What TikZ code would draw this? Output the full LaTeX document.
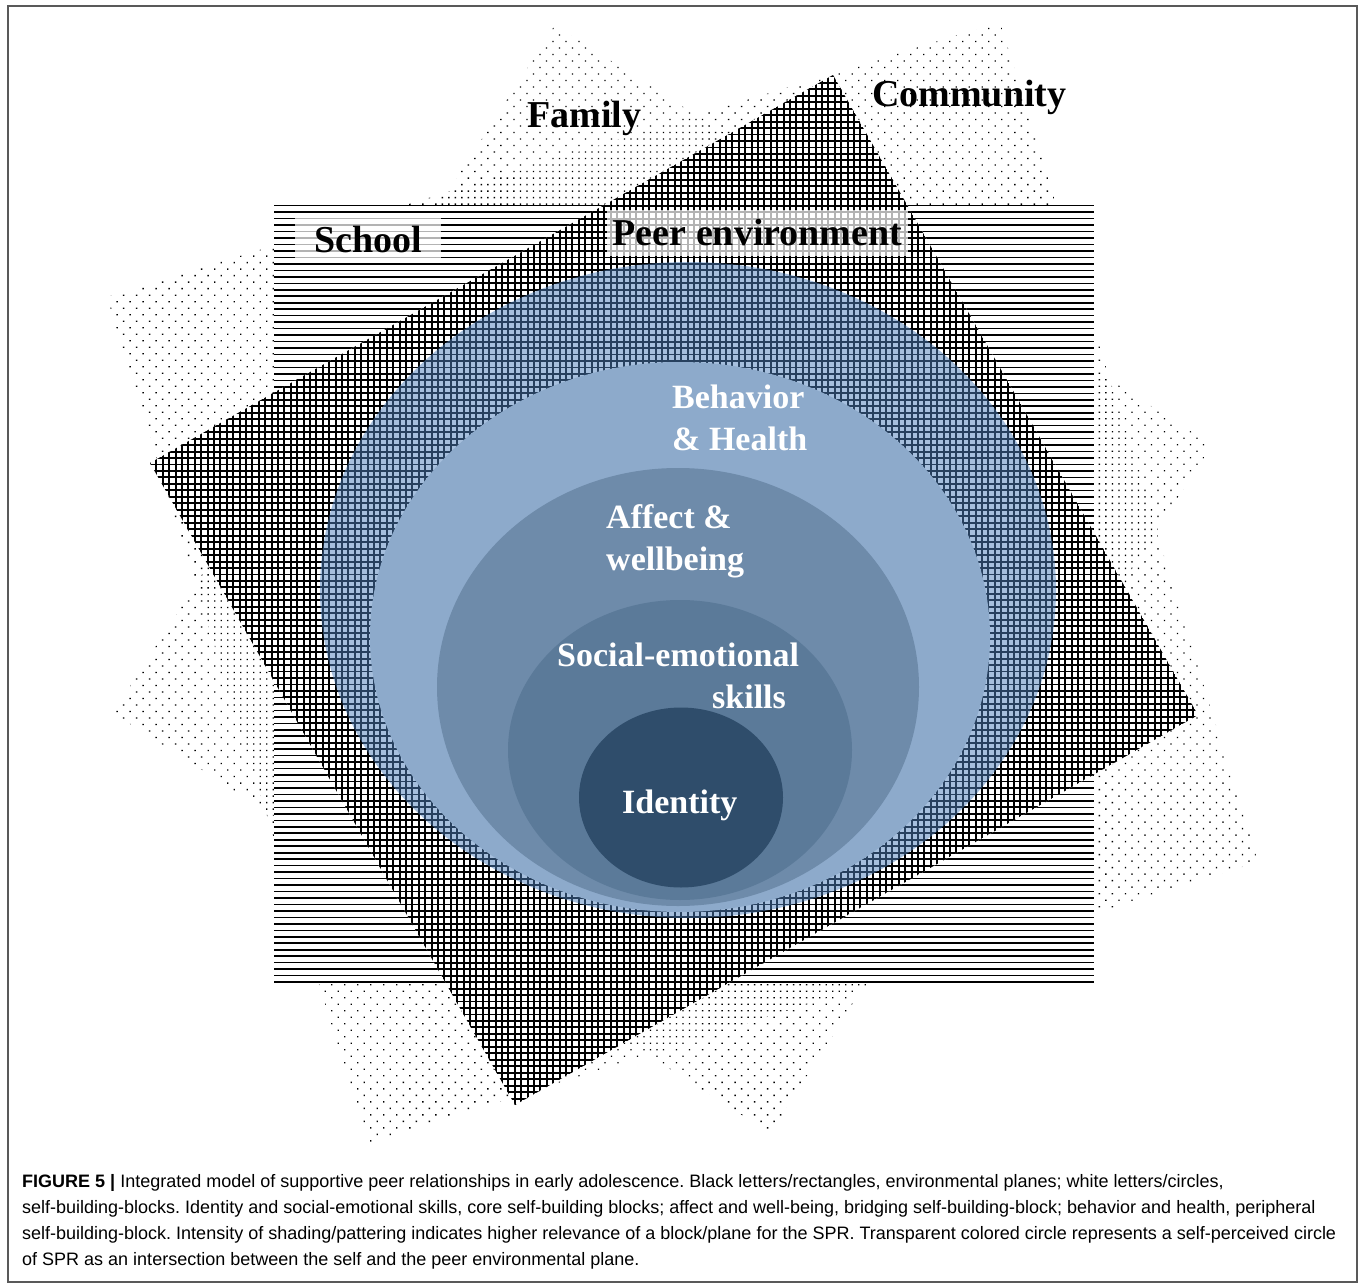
\documentclass[tikz,border=0pt]{standalone}
\usepackage{fontspec}
\setmainfont{Liberation Serif}
\newfontfamily\captionfont{Liberation Sans}
\usetikzlibrary{patterns.meta}
\definecolor{sprblue}{HTML}{4F81BD}
\definecolor{behaviorblue}{HTML}{8DAACB}
\definecolor{affectblue}{HTML}{6E8BAA}
\definecolor{socialblue}{HTML}{5B7A99}
\definecolor{identityblue}{HTML}{2F4D6B}
\frenchspacing

\begin{document}
\begin{tikzpicture}[x=1pt,y=-1pt,
    planeline/.style={line width=1.6pt},
    gridline/.style={line width=1.9pt},
    envlabel/.style={font=\fontsize{38}{40}\selectfont\bfseries, text=black, inner sep=0pt},
    boxlabel/.style={envlabel, fill=white, fill opacity=0.7, text opacity=1},
    selflabel/.style={font=\fontsize{34}{42}\selectfont\bfseries, text=white, align=left, inner sep=0pt}]
    \useasboundingbox (0,0) rectangle (1360,1284);
    \draw[gray!70!black, line width=1.5pt] (8,6) rectangle (1357,1282);
    % environmental planes
    \path[pattern={Dots[distance=9.2pt,angle=45,radius=0.95pt]}]
        (555,25) -- (1212,445) -- (770,1133) -- (113,713) -- cycle;
    \path[pattern={Dots[distance=9.2pt,angle=45,radius=0.95pt,xshift=6.5pt]}]
        (1000,22) -- (1258,862) -- (368,1143) -- (107,297) -- cycle;
    \fill[white] (274,205.7) rectangle (1094,982);
    \foreach \i in {0,...,120}
        \draw[planeline] (274,205.7+6.47*\i) -- (1094,205.7+6.47*\i);
    \begin{scope}
        \clip (833,75) -- (1198,715) -- (515,1105) -- (150,463) -- cycle;
        \fill[white] (150,75) rectangle (1198,1105);
        \foreach \i in {0,...,160}
            \draw[gridline] (150,69.83+6.47*\i) -- (1198,69.83+6.47*\i);
        \foreach \i in {0,...,164}
            \draw[gridline] (150+6.4*\i,75) -- (150+6.4*\i,1105);
    \end{scope}
    \node[envlabel, anchor=base west] (family) at (527,128) {Family};
    \node[envlabel, anchor=base west] (community) at (872,107) {Community};
    \node[boxlabel, minimum width=146pt, minimum height=45pt] (school) at (368,240) {School};
    \node[boxlabel, minimum width=301pt, minimum height=46pt] (peer) at (757.5,233) {Peer environment};
    % self-building-blocks
    \fill[sprblue, fill opacity=0.5] (688,590) ellipse [x radius=368, y radius=328];
    \fill[behaviorblue] (680,637) ellipse [x radius=310, y radius=275];
    \fill[affectblue] (678,687) ellipse [x radius=241, y radius=219];
    \fill[socialblue] (680,750) ellipse [x radius=172, y radius=150];
    \fill[identityblue] (681,797.5) ellipse [x radius=102, y radius=90];
    \node[selflabel, anchor=base west] (behavior) at (672,450) {Behavior\\\& Health};
    \node[selflabel, anchor=base west] (affect) at (606,570) {Affect \&\\wellbeing};
    \node[selflabel, anchor=base west] (social) at (557,708) {Social-emotional\\\hspace*{155pt}skills};
    \node[selflabel, anchor=base west] (identity) at (622,813) {Identity};
    % caption
    \node[anchor=base west, align=left, inner sep=0pt, font=\captionfont\fontsize{18}{26}\selectfont] (caption) at (22,1265)
    {
        \textbf{FIGURE 5 |} Integrated model of supportive peer relationships in early adolescence. Black letters/rectangles, environmental planes; white letters/circles,\\
        self-building-blocks. Identity and social-emotional skills, core self-building blocks; affect and well-being, bridging self-building-block; behavior and health, peripheral\\
        self-building-block. Intensity of shading/pattering indicates higher relevance of a block/plane for the SPR. Transparent colored circle represents a self-perceived circle\\
        of SPR as an intersection between the self and the peer environmental plane.
    };
\end{tikzpicture}
\end{document}
